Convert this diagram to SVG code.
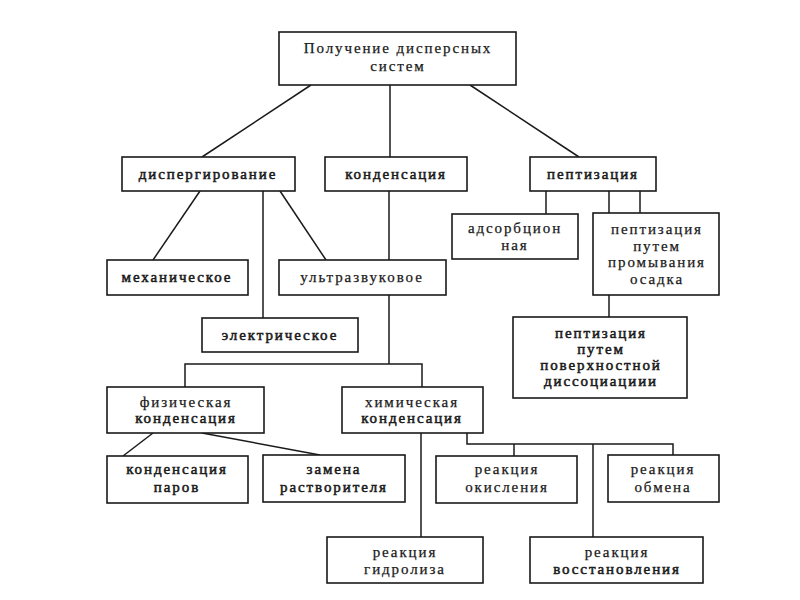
<svg xmlns="http://www.w3.org/2000/svg" width="800" height="600" viewBox="0 0 800 600">
<style>
rect{fill:#fff;stroke:#1a1a1a;stroke-width:1.6}
text{font-family:"Liberation Serif","Times New Roman",serif;font-size:15px;fill:#1a1a1a;text-anchor:middle;letter-spacing:1.9px;stroke:#1a1a1a;stroke-width:0.25}
.b{stroke-width:0.55}
#connectors line,#connectors polyline{stroke:#1a1a1a;stroke-width:1.5;fill:none}
</style>
<rect x="0" y="0" width="800" height="600" style="fill:#fff;stroke:none"/>
<g id="connectors">
<line x1="311" y1="85" x2="202" y2="157"/>
<line x1="390" y1="85" x2="390" y2="157"/>
<line x1="470" y1="85" x2="579" y2="157"/>
<line x1="200" y1="191" x2="153" y2="260"/>
<line x1="263" y1="191" x2="263" y2="318"/>
<line x1="280" y1="191" x2="326" y2="260"/>
<line x1="389" y1="191" x2="389" y2="260"/>
<line x1="546" y1="191" x2="546" y2="214"/>
<line x1="609" y1="191" x2="609" y2="213"/>
<line x1="640" y1="191" x2="640" y2="213"/>
<line x1="609" y1="295" x2="609" y2="317"/>
<line x1="389" y1="295" x2="389" y2="364"/>
<polyline points="185,387 185,364 422,364 422,387"/>
<line x1="153" y1="433" x2="123" y2="456"/>
<line x1="202" y1="433" x2="320" y2="455"/>
<line x1="421" y1="433" x2="421" y2="537"/>
<polyline points="467,433 467,444 673,444 673,455"/>
<line x1="514" y1="444" x2="514" y2="456"/>
<line x1="593" y1="444" x2="593" y2="537"/>
</g>
<g id="n-root"><rect x="279" y="32" width="237" height="53"/><text x="398" y="53">Получение дисперсных</text><text x="398" y="71">систем</text></g>
<g id="n-disp"><rect x="122" y="157" width="173" height="34"/><text class="b" x="208" y="179">диспергирование</text></g>
<g id="n-kond"><rect x="325" y="157" width="142" height="34"/><text class="b" x="396" y="179">конденсация</text></g>
<g id="n-pept"><rect x="530" y="157" width="126" height="34"/><text class="b" x="593" y="179">пептизация</text></g>
<g id="n-mech"><rect x="107" y="260" width="141" height="35"/><text class="b" x="177" y="282">механическое</text></g>
<g id="n-ultra"><rect x="279" y="260" width="167" height="35"/><text x="362" y="282">ультразвуковое</text></g>
<g id="n-elec"><rect x="202" y="318" width="156" height="34"/><text class="b" x="280" y="340">электрическое</text></g>
<g id="n-adsorb"><rect x="452" y="214" width="126" height="45"/><text x="515" y="233">адсорбцион</text><text x="515" y="250">ная</text></g>
<g id="n-promyv"><rect x="593" y="213" width="126" height="82"/><text x="657" y="234">пептизация</text><text x="657" y="251">путем</text><text x="657" y="267">промывания</text><text x="657" y="284">осадка</text></g>
<g id="n-poverkh"><rect x="513" y="317" width="174" height="81"/><text class="b" x="601" y="338">пептизация</text><text class="b" x="601" y="354">путем</text><text class="b" x="601" y="370">поверхностной</text><text class="b" x="601" y="386">диссоциациии</text></g>
<g id="n-fiz"><rect x="107" y="387" width="157" height="46"/><text x="186" y="407">физическая</text><text class="b" x="186" y="423">конденсация</text></g>
<g id="n-him"><rect x="342" y="387" width="141" height="46"/><text x="412" y="407">химическая</text><text class="b" x="412" y="423">конденсация</text></g>
<g id="n-parov"><rect x="107" y="456" width="141" height="47"/><text class="b" x="177" y="474">конденсация</text><text class="b" x="177" y="492">паров</text></g>
<g id="n-zamena"><rect x="263" y="455" width="142" height="47"/><text class="b" x="334" y="474">замена</text><text class="b" x="334" y="492">растворителя</text></g>
<g id="n-okisl"><rect x="436" y="456" width="141" height="47"/><text x="507" y="474">реакция</text><text x="507" y="492">окисления</text></g>
<g id="n-obmen"><rect x="608" y="455" width="111" height="47"/><text x="663" y="474">реакция</text><text x="663" y="492">обмена</text></g>
<g id="n-gidr"><rect x="327" y="537" width="156" height="46"/><text x="405" y="557">реакция</text><text x="405" y="574">гидролиза</text></g>
<g id="n-vosst"><rect x="530" y="537" width="173" height="46"/><text x="617" y="557">реакция</text><text class="b" x="617" y="574">восстановления</text></g>
</svg>
